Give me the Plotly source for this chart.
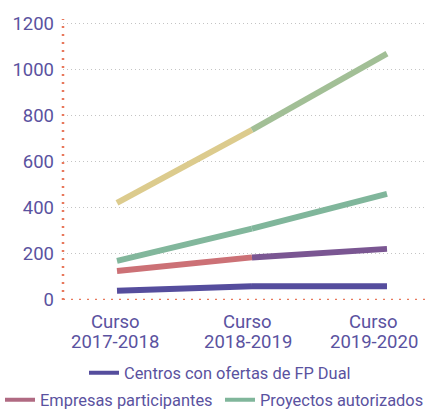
import plotly.graph_objects as go

categories = ["2017-2018", "2018-2019", "2019-2020"]
label_prefix = "Curso"
total_series = [422, 739, 1070]
proyectos = [170, 310, 461]
empresas = [126, 185, 222]
centros = [40, 60, 60]
y_ticks = [0, 200, 400, 600, 800, 1000, 1200]

TEXT = "#5a52a0"
RED = "#e8785c"
FONT = "Roboto"
fig = go.Figure()

def add_series(vals, colors):
    for i in range(len(vals) - 1):
        fig.add_trace(go.Scatter(
            x=categories[i:i + 2], y=vals[i:i + 2], mode="lines",
            line=dict(color=colors[i], width=6),
            showlegend=False, hoverinfo="skip"))

add_series(total_series, ["#dccb8d", "#a2bf96"])
add_series(proyectos, ["#82b79c", "#80b69b"])
add_series(empresas, ["#cc7176", "#7a5692"])
add_series(centros, ["#554d9d", "#554d9d"])

fig.add_trace(go.Scatter(x=[None], y=[None], mode="lines", name="Centros con ofertas de FP Dual",
                         line=dict(color="#554d9d", width=4), legend="legend"))
fig.add_trace(go.Scatter(x=[None], y=[None], mode="lines", name="Empresas participantes",
                         line=dict(color="#b06a82", width=4), legend="legend2"))
fig.add_trace(go.Scatter(x=[None], y=[None], mode="lines", name="Proyectos autorizados",
                         line=dict(color="#80b69b", width=4), legend="legend3"))

fig.add_shape(type="line", xref="paper", yref="y", x0=0, x1=1, y0=0, y1=0,
              line=dict(color=RED, width=2.5, dash="2px,6px"))
fig.add_shape(type="line", xref="paper", yref="paper", x0=0, x1=0, y0=0, y1=1,
              line=dict(color=RED, width=2.5, dash="2px,6px"))

# x-axis category labels (two lines each)
label_xshift = [-2, -4, -13]
for cat, dx in zip(categories, label_xshift):
    fig.add_annotation(x=cat, xref="x", y=0, yref="paper", text=label_prefix,
                       showarrow=False, yanchor="middle", yshift=-22, xshift=dx,
                       font=dict(family=FONT, size=18.5, color=TEXT))
    fig.add_annotation(x=cat, xref="x", y=0, yref="paper", text=cat,
                       showarrow=False, yanchor="middle", yshift=-42, xshift=dx,
                       font=dict(family=FONT, size=18.5, color=TEXT))

def legend_box(x_px, y_px):
    return dict(orientation="h", xref="container", yref="container", x=x_px / 426,
                xanchor="left", y=1 - y_px / 410, yanchor="middle",
                font=dict(size=16.4, color=TEXT), bgcolor="rgba(0,0,0,0)")

fig.update_layout(
    width=426, height=410,
    margin=dict(l=63, r=0, t=19, b=110, autoexpand=False),
    paper_bgcolor="white", plot_bgcolor="white",
    font=dict(family=FONT, color=TEXT, size=18),
    xaxis=dict(type="category", range=[-0.4, 2.289], showgrid=False, zeroline=False,
               showline=False, ticks="", showticklabels=False),
    yaxis=dict(range=[0, 1220], tickvals=y_ticks, showgrid=True, gridcolor="#c4c4c4",
               griddash="1px,3px", gridwidth=1, zeroline=False, showline=False, ticks="",
               tickfont=dict(size=18.5), ticklabelstandoff=8),
    legend=legend_box(84, 373),
    legend2=legend_box(0, 400),
    legend3=legend_box(220, 400),
    showlegend=True,
)

fig.write_html("out.html", config={"displayModeBar": False},
               post_script="document.body.style.margin='0';document.body.style.padding='0';")
